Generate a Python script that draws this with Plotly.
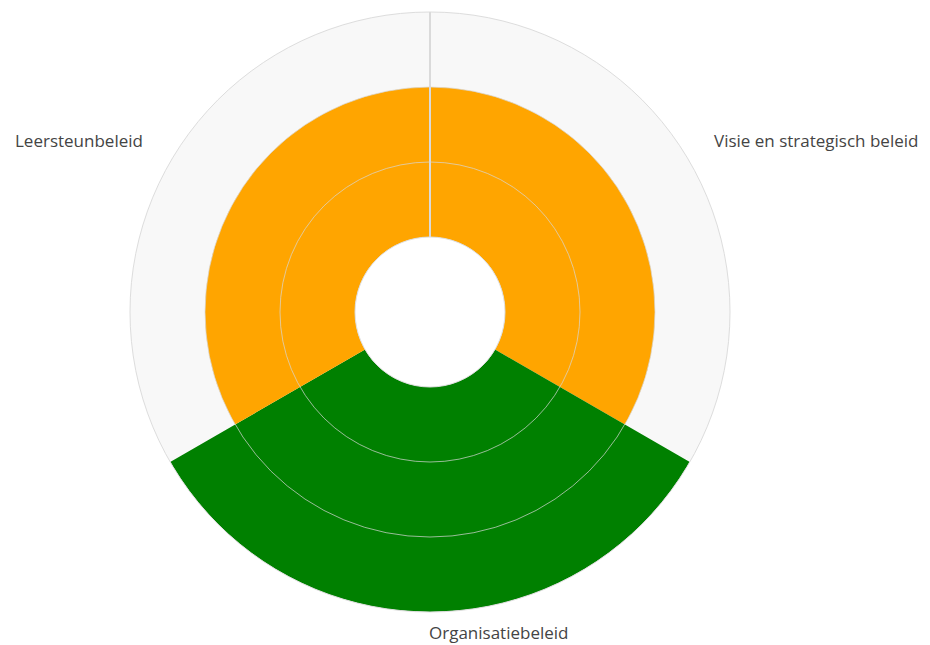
import plotly.graph_objects as go

categories = ["Visie en strategisch beleid", "Organisatiebeleid", "Leersteunbeleid"]
values = [2, 3, 2]
colors = ["#FFA500", "#008000", "#FFA500"]
radial_max = 3
grid_vals = [1, 2]

W, H = 930, 645
# polar centre and outer radius in figure pixels
CX, CY, R = 422, 304, 300

fig = go.Figure()
fig.add_trace(go.Barpolar(
    r=values,
    theta=categories,
    marker=dict(color=colors, line=dict(width=0)),
    hoverinfo="theta+r",
    subplot="polar",
))
# empty trace so that the overlay polar (grid drawn on top of the bars) is rendered
fig.add_trace(go.Scatterpolar(r=[None], theta=[None], mode="lines", subplot="polar2",
                              hoverinfo="skip", showlegend=False))

dom = dict(x=[(CX - R) / W, (CX + R) / W], y=[1 - (CY + R) / H, 1 - (CY - R) / H])

# category labels placed around the circle (offsets from the centre in pixels)
label_specs = [(282, -171.5, "left"), (-3, 320, "left"), (-285, -171.5, "right")]
annotations = []
for cat, (dx, dy, anchor) in zip(categories, label_specs):
    annotations.append(dict(
        text=cat, x=(CX + dx) / W, y=1 - (CY + dy) / H, xref="paper", yref="paper",
        xanchor=anchor, yanchor="middle", showarrow=False,
        font=dict(family="Open Sans", size=17, color="#444"),
    ))

fig.update_layout(
    width=W, height=H,
    paper_bgcolor="white",
    margin=dict(l=0, r=0, t=0, b=0),
    showlegend=False,
    font=dict(family="Open Sans", size=17, color="#444"),
    annotations=annotations,
    polar=dict(
        domain=dom,
        bgcolor="#f8f8f8",
        hole=0.25,
        bargap=0,
        radialaxis=dict(range=[0, radial_max], showticklabels=False, ticks="", showgrid=False,
                        showline=True, linecolor="#dcdcdc", linewidth=2, angle=90),
        angularaxis=dict(direction="clockwise", rotation=30, showgrid=False,
                         showticklabels=False, ticks="",
                         showline=True, linecolor="#dddddd", linewidth=1),
    ),
    polar2=dict(
        domain=dom,
        bgcolor="rgba(0,0,0,0)",
        hole=0.25,
        radialaxis=dict(range=[0, radial_max], tickvals=grid_vals, showticklabels=False, ticks="",
                        showgrid=True, gridcolor="rgba(215,215,215,0.7)", gridwidth=1,
                        showline=True, linecolor="rgba(215,215,215,0.6)", linewidth=1, angle=90),
        angularaxis=dict(showgrid=False, showticklabels=False, ticks="", showline=False),
    ),
)

fig.write_html("out.html")
